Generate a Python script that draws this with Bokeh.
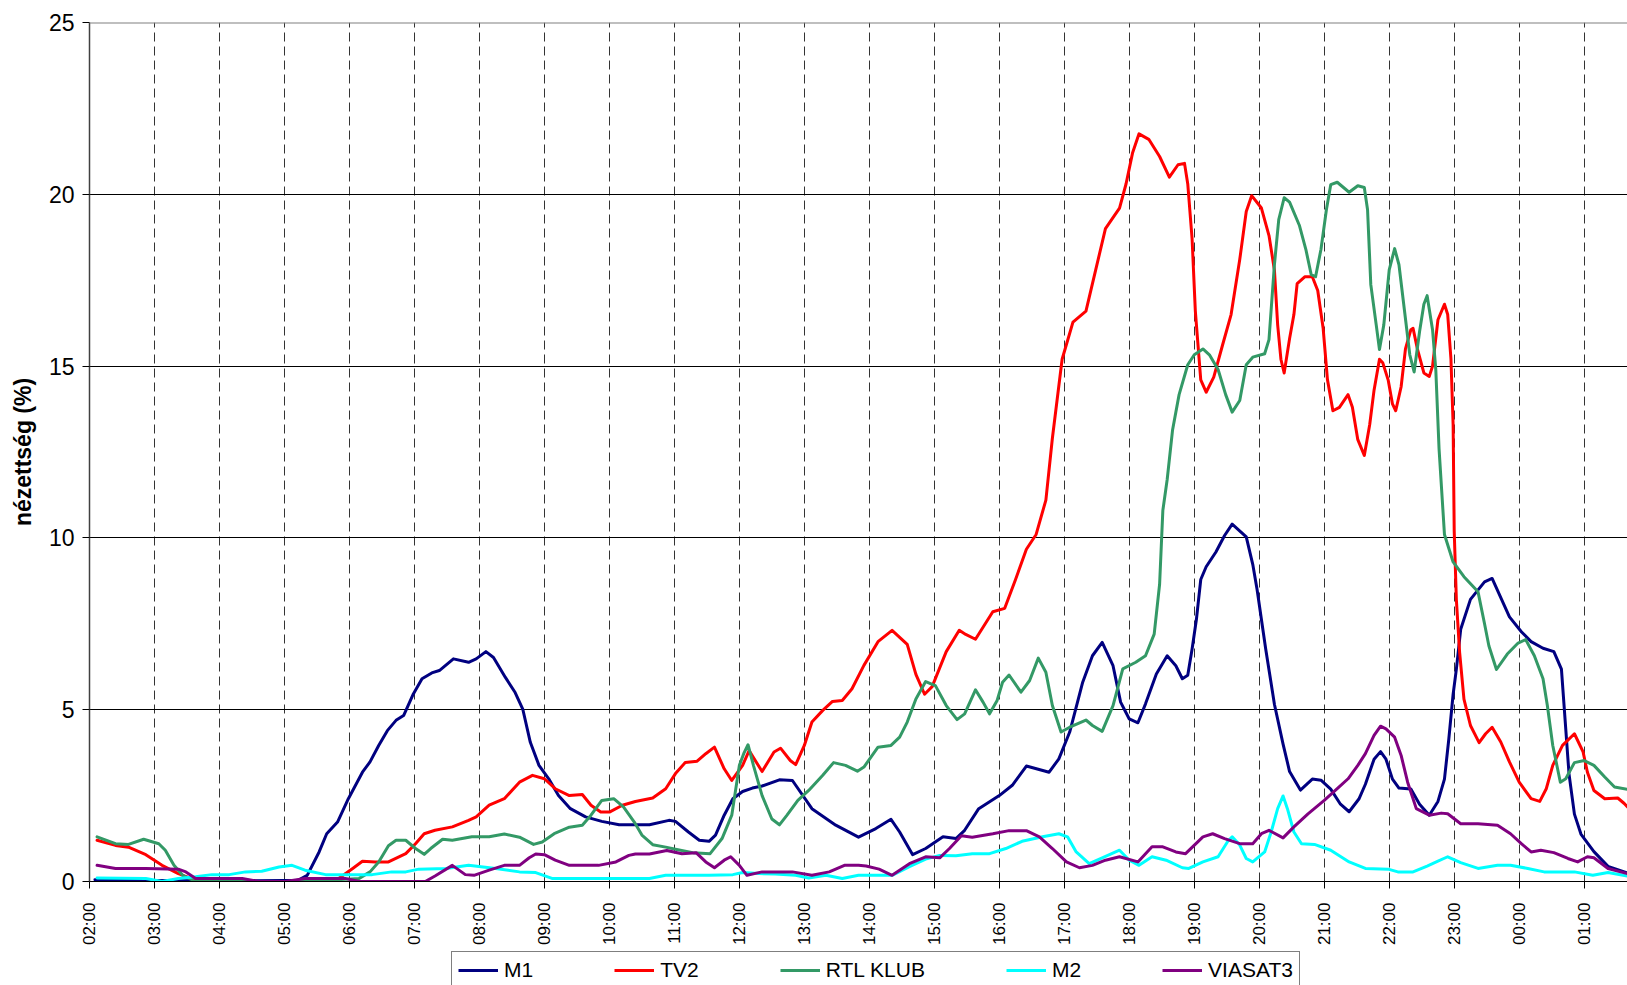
import math
from bokeh.plotting import figure
from bokeh.layouts import column
from bokeh.models import Range1d, FixedTicker, Legend, LegendItem, Span
from bokeh.embed import file_html
from bokeh.resources import INLINE

# time axis: minutes after 02:00
hour_labels = ["02:00", "03:00", "04:00", "05:00", "06:00", "07:00", "08:00", "09:00",
               "10:00", "11:00", "12:00", "13:00", "14:00", "15:00", "16:00", "17:00",
               "18:00", "19:00", "20:00", "21:00", "22:00", "23:00", "00:00", "01:00"]
y_ticks = [0, 5, 10, 15, 20, 25]
series_names = ["M1", "TV2", "RTL KLUB", "M2", "VIASAT3"]

m1_t = [5, 60, 120, 180, 193, 201, 212, 219, 229, 239, 252, 259, 267, 275, 283, 290, 299, 307,
        316, 323, 336, 350, 357, 366, 373, 384, 393, 400, 407, 415, 424, 433, 444, 458, 473, 489, 517, 535,
        541, 553, 563, 572, 578, 586, 594, 603, 612, 621, 637, 649, 667, 689, 710, 726, 740, 748, 760, 772,
        788, 800, 808, 821, 840, 852, 865, 886, 895, 905, 917, 926, 935, 945, 952, 960, 968, 975, 985, 995,
        1003, 1009, 1014, 1018, 1022, 1026, 1031, 1040, 1048, 1055, 1068, 1074, 1078, 1086, 1094, 1102, 1108,
        1118, 1129, 1137, 1146, 1155, 1163, 1172, 1178, 1186, 1192, 1197, 1203, 1209, 1220, 1228, 1237, 1245,
        1251, 1255, 1259, 1262, 1266, 1275, 1288, 1295, 1311, 1322, 1331, 1342, 1352, 1359, 1362, 1366, 1371,
        1377, 1389, 1402, 1420]
m1_v = [0.05, 0.03, 0.02, 0.03, 0.04, 0.18, 0.86, 1.39, 1.73, 2.41, 3.18, 3.48, 3.96, 4.39, 4.69,
        4.83, 5.46, 5.9, 6.07, 6.14, 6.48, 6.38, 6.48, 6.69, 6.52, 5.94, 5.5, 5.02, 4.05, 3.38, 2.99, 2.5,
        2.12, 1.88, 1.75, 1.65, 1.65, 1.78, 1.75, 1.44, 1.2, 1.17, 1.35, 1.93, 2.41, 2.62, 2.72, 2.78, 2.96,
        2.94, 2.12, 1.64, 1.29, 1.54, 1.81, 1.44, 0.78, 0.96, 1.3, 1.25, 1.49, 2.12, 2.5, 2.8, 3.36, 3.18,
        3.57, 4.35, 5.8, 6.57, 6.96, 6.28, 5.22, 4.73, 4.62, 5.17, 6.04, 6.57, 6.28, 5.9, 6.0, 6.77, 7.63,
        8.79, 9.16, 9.59, 10.07, 10.4, 10.03, 9.23, 8.5, 6.76, 5.16, 4.0, 3.2, 2.66, 2.98, 2.95, 2.69, 2.25,
        2.03, 2.4, 2.83, 3.56, 3.78, 3.56, 2.98, 2.72, 2.69, 2.25, 1.93, 2.33, 2.98, 4.14, 5.45, 6.18, 7.34,
        8.21, 8.72, 8.82, 7.7, 7.27, 6.98, 6.79, 6.69, 6.18, 4.87, 3.13, 1.96, 1.38, 0.87, 0.44, 0.25]

tv2_t = [7, 24, 36, 52, 67, 82, 98, 120, 200, 230, 243, 252, 264, 276, 292, 301, 309, 319, 335, 350, 357,
         369, 383, 397, 409, 420, 430, 443, 455, 463, 472, 480, 492, 504, 520, 532, 541, 550, 561, 569, 577,
         586, 593, 603, 609, 621, 632, 638, 647, 652, 660, 667, 677, 686, 695, 704, 715, 728, 741, 755, 763,
         771, 778, 791, 803, 809, 818, 834, 845, 855, 865, 874, 883, 889, 898, 908, 920, 929, 938, 951, 957,
         963, 969, 978, 988, 997, 1005, 1011, 1014, 1018, 1021, 1026, 1031, 1038, 1046, 1054, 1062, 1068,
         1073, 1082, 1089, 1094, 1097, 1100, 1103, 1108, 1112, 1115, 1122, 1129, 1134, 1139, 1143, 1148,
         1154, 1162, 1166, 1171, 1177, 1182, 1186, 1191, 1194, 1199, 1203, 1206, 1211, 1215, 1220, 1222,
         1226, 1232, 1237, 1240, 1245, 1251, 1254, 1257, 1259, 1260, 1262, 1265, 1269, 1275, 1283, 1289,
         1295, 1303, 1311, 1320, 1331, 1339, 1345, 1351, 1360, 1371, 1379, 1383, 1389, 1399, 1411, 1417, 1420]
tv2_v = [1.2, 1.05, 1.0, 0.78, 0.47, 0.23, 0.04, 0.0, 0.0, 0.09, 0.38, 0.59, 0.57, 0.57, 0.81, 1.1, 1.39,
         1.49, 1.59, 1.78, 1.88, 2.22, 2.41, 2.89, 3.09, 2.99, 2.7, 2.5, 2.53, 2.22, 2.02, 2.02, 2.22, 2.33,
         2.43, 2.7, 3.14, 3.46, 3.5, 3.72, 3.91, 3.28, 2.94, 3.38, 3.81, 3.2, 3.77, 3.88, 3.52, 3.4, 3.96,
         4.64, 4.98, 5.24, 5.27, 5.61, 6.29, 6.98, 7.31, 6.9, 6.03, 5.45, 5.67, 6.69, 7.31, 7.19, 7.05, 7.85,
         7.95, 8.79, 9.67, 10.1, 11.1, 12.9, 15.2, 16.28, 16.6, 17.8, 19.0, 19.6, 20.3, 21.2, 21.76, 21.6,
         21.1, 20.5, 20.86, 20.9, 20.3, 18.7, 16.6, 14.6, 14.24, 14.68, 15.6, 16.5, 18.1, 19.5, 19.96, 19.6,
         18.8, 17.8, 16.2, 15.2, 14.8, 15.8, 16.5, 17.4, 17.6, 17.6, 17.2, 16.1, 14.6, 13.7, 13.8, 14.17,
         13.8, 12.86, 12.4, 13.3, 14.3, 15.2, 15.1, 14.6, 13.9, 13.7, 14.4, 15.5, 16.06, 16.1, 15.5, 14.8,
         14.7, 15.0, 16.35, 16.8, 16.5, 15.2, 13.3, 10.2, 8.2, 6.67, 5.31, 4.54, 4.04, 4.3, 4.49, 4.06, 3.48,
         2.89, 2.41, 2.33, 2.7, 3.38, 3.96, 4.3, 3.77, 3.18, 2.65, 2.41, 2.43, 2.27, 2.17]

rtl_t = [7, 24, 36, 50, 64, 70, 78, 86, 98, 200, 249, 259, 267, 276, 283, 292, 301, 309, 315, 326, 335,
         353, 369, 383, 397, 410, 418, 429, 443, 455, 463, 473, 484, 493, 503, 510, 520, 532, 541, 557, 573,
         584, 593, 600, 604, 608, 613, 621, 630, 637, 644, 654, 664, 677, 687, 698, 709, 715, 728, 740, 748,
         755, 763, 772, 781, 791, 801, 808, 818, 825, 831, 838, 843, 849, 860, 868, 876, 883, 889, 897, 905,
         920, 926, 935, 945, 954, 966, 975, 983, 988, 991, 995, 1000, 1006, 1014, 1020, 1028, 1034, 1042,
         1049, 1055, 1062, 1068, 1074, 1085, 1089, 1094, 1098, 1103, 1108, 1117, 1123, 1128, 1132, 1137,
         1142, 1146, 1152, 1163, 1171, 1177, 1180, 1183, 1188, 1191, 1195, 1200, 1205, 1209, 1214, 1219,
         1223, 1228, 1232, 1235, 1240, 1243, 1246, 1249, 1251, 1259, 1269, 1282, 1288, 1292, 1299, 1309,
         1319, 1326, 1334, 1342, 1346, 1351, 1358, 1363, 1371, 1380, 1389, 1399, 1408, 1420]
rtl_v = [1.3, 1.1, 1.08, 1.23, 1.1, 0.91, 0.47, 0.18, 0.0, 0.0, 0.09, 0.28, 0.57, 1.04, 1.2, 1.2, 0.96,
         0.79, 0.96, 1.23, 1.2, 1.3, 1.3, 1.38, 1.29, 1.08, 1.15, 1.39, 1.58, 1.64, 1.93, 2.36, 2.41, 2.17,
         1.73, 1.35, 1.07, 1.0, 0.94, 0.84, 0.81, 1.25, 1.93, 3.38, 3.72, 3.98, 3.38, 2.5, 1.82, 1.65, 1.93,
         2.36, 2.65, 3.09, 3.46, 3.38, 3.21, 3.33, 3.91, 3.96, 4.2, 4.64, 5.31, 5.82, 5.7, 5.12, 4.71, 4.88,
         5.58, 5.22, 4.88, 5.27, 5.8, 6.01, 5.51, 5.85, 6.5, 6.09, 5.12, 4.35, 4.49, 4.7, 4.54, 4.37, 5.12,
         6.19, 6.38, 6.57, 7.2, 8.65, 10.8, 11.7, 13.15, 14.17, 15.04, 15.33, 15.5, 15.33, 14.9, 14.17,
         13.66, 14.0, 15.04, 15.26, 15.36, 15.77, 17.95, 19.26, 19.9, 19.77, 19.1, 18.4, 17.66, 17.6, 18.4,
         19.55, 20.28, 20.35, 20.06, 20.25, 20.2, 19.55, 17.37, 16.2, 15.48, 16.2, 17.8, 18.42, 17.95,
         16.64, 15.33, 14.83, 16.0, 16.8, 17.05, 16.06, 14.9, 12.6, 11.1, 10.1, 9.3, 8.87, 8.43, 7.5, 6.86,
         6.17, 6.62, 6.94, 7.04, 6.57, 5.9, 5.12, 3.96, 2.89, 2.99, 3.46, 3.52, 3.38, 3.04, 2.75, 2.68]

m2_t = [7, 52, 67, 82, 98, 113, 129, 144, 159, 175, 187, 199, 218, 239, 261, 279, 292, 304, 329, 350, 375,
        397, 412, 427, 449, 480, 517, 532, 572, 594, 603, 618, 633, 652, 664, 680, 695, 710, 741, 757, 772,
        785, 800, 815, 831, 846, 861, 880, 895, 903, 911, 923, 935, 951, 960, 969, 981, 994, 1009, 1015,
        1028, 1042, 1051, 1055, 1062, 1068, 1074, 1085, 1091, 1097, 1102, 1106, 1112, 1119, 1131, 1146,
        1163, 1178, 1199, 1208, 1222, 1235, 1245, 1254, 1266, 1282, 1300, 1312, 1328, 1343, 1371, 1388,
        1402, 1420]
m2_v = [0.1, 0.09, 0.0, 0.09, 0.14, 0.2, 0.2, 0.28, 0.3, 0.42, 0.47, 0.33, 0.2, 0.2, 0.2, 0.28, 0.28, 0.36,
        0.38, 0.47, 0.38, 0.28, 0.26, 0.09, 0.09, 0.09, 0.09, 0.18, 0.18, 0.2, 0.26, 0.23, 0.22, 0.18, 0.1,
        0.18, 0.09, 0.18, 0.18, 0.43, 0.65, 0.76, 0.75, 0.81, 0.81, 0.96, 1.17, 1.3, 1.39, 1.3, 0.86, 0.52,
        0.69, 0.91, 0.62, 0.47, 0.72, 0.62, 0.4, 0.38, 0.57, 0.72, 1.17, 1.3, 1.06, 0.67, 0.57, 0.86, 1.44,
        2.12, 2.49, 2.12, 1.44, 1.1, 1.08, 0.91, 0.57, 0.38, 0.36, 0.28, 0.28, 0.45, 0.59, 0.72, 0.55, 0.38,
        0.47, 0.47, 0.38, 0.28, 0.28, 0.18, 0.26, 0.16]

via_t = [7, 24, 52, 82, 89, 98, 141, 156, 181, 199, 236, 249, 310, 319, 335, 347, 355, 369, 383, 397, 406,
         412, 420, 430, 443, 470, 486, 498, 504, 517, 533, 547, 560, 569, 577, 586, 592, 600, 607, 621, 649,
         667, 683, 697, 710, 717, 729, 741, 757, 772, 785, 794, 805, 815, 834, 849, 865, 877, 889, 902, 914,
         926, 938, 951, 968, 981, 991, 1003, 1012, 1028, 1037, 1048, 1062, 1074, 1082, 1089, 1102, 1112,
         1125, 1140, 1152, 1162, 1171, 1178, 1186, 1192, 1197, 1205, 1211, 1217, 1225, 1237, 1248, 1254,
         1266, 1282, 1300, 1312, 1322, 1331, 1340, 1352, 1365, 1374, 1383, 1389, 1402, 1420]
via_v = [0.47, 0.38, 0.38, 0.36, 0.28, 0.09, 0.09, 0.0, 0.0, 0.09, 0.09, 0.0, 0.0, 0.16, 0.47, 0.2, 0.18,
         0.33, 0.47, 0.47, 0.69, 0.8, 0.78, 0.62, 0.47, 0.47, 0.57, 0.76, 0.8, 0.8, 0.9, 0.81, 0.84, 0.57,
         0.4, 0.62, 0.72, 0.47, 0.18, 0.28, 0.28, 0.18, 0.28, 0.47, 0.47, 0.45, 0.36, 0.18, 0.52, 0.72, 0.69,
         0.96, 1.33, 1.29, 1.39, 1.48, 1.48, 1.3, 0.96, 0.57, 0.4, 0.47, 0.62, 0.72, 0.57, 1.01, 1.01, 0.86,
         0.81, 1.3, 1.39, 1.25, 1.1, 1.1, 1.39, 1.49, 1.27, 1.59, 1.97, 2.36, 2.7, 2.99, 3.38, 3.72, 4.25,
         4.52, 4.44, 4.2, 3.67, 2.89, 2.12, 1.93, 1.99, 1.97, 1.68, 1.68, 1.64, 1.39, 1.1, 0.86, 0.91, 0.84,
         0.67, 0.57, 0.72, 0.69, 0.38, 0.23]

colors = ["#000080", "#FF0000", "#339966", "#00FFFF", "#800080"]
FONT = "Liberation Sans"
series = [(m1_t, m1_v), (tv2_t, tv2_v), (rtl_t, rtl_v), (m2_t, m2_v), (via_t, via_v)]

# ---------------- main chart ----------------
p = figure(width=1627, height=948, output_backend="svg", toolbar_location=None,
           x_range=Range1d(0, 1420), y_range=Range1d(0, 25),
           min_border_left=89, min_border_right=0, min_border_top=22, min_border_bottom=65)
p.outline_line_color = None
p.background_fill_color = "white"
p.border_fill_color = "white"

p.ygrid.ticker = FixedTicker(ticks=[5, 10, 15, 20])
p.ygrid.grid_line_color = "black"
p.ygrid.grid_line_width = 1
p.xgrid.ticker = FixedTicker(ticks=[i * 60 for i in range(1, len(hour_labels))])
p.xgrid.grid_line_color = "#333333"
p.xgrid.grid_line_width = 1
p.xgrid.grid_line_dash = "9 5"
p.add_layout(Span(location=25, dimension="width", line_color="#808080", line_width=2))

p.xaxis.ticker = FixedTicker(ticks=[i * 60 for i in range(len(hour_labels))])
p.xaxis.major_label_overrides = {i * 60: lab for i, lab in enumerate(hour_labels)}
p.xaxis.major_label_orientation = math.pi / 2
p.xaxis.major_label_text_font = FONT
p.xaxis.major_label_text_font_size = "17px"
p.xaxis.major_label_text_color = "black"
p.xaxis.major_tick_out = 7
p.xaxis.major_tick_in = 0
p.xaxis.minor_tick_out = 0
p.xaxis.minor_tick_in = 0
p.xaxis.axis_line_color = "black"
p.xaxis.major_tick_line_color = "black"
p.xaxis.major_label_standoff = 14

p.yaxis.ticker = FixedTicker(ticks=y_ticks)
p.yaxis.major_label_text_font = FONT
p.yaxis.major_label_text_font_size = "23px"
p.yaxis.major_label_text_color = "black"
p.yaxis.major_tick_out = 7
p.yaxis.major_tick_in = 0
p.yaxis.minor_tick_out = 0
p.yaxis.minor_tick_in = 0
p.yaxis.axis_line_color = "#404040"
p.yaxis.axis_line_width = 1.5
p.yaxis.major_tick_line_color = "black"
p.yaxis.major_label_standoff = 8
p.yaxis.axis_label = "nézettség (%)"
p.yaxis.axis_label_text_font = FONT
p.yaxis.axis_label_text_font_style = "bold"
p.yaxis.axis_label_text_font_size = "23px"
p.yaxis.axis_label_text_color = "black"
p.yaxis.axis_label_standoff = 10

for (t, v), c in zip(series, colors):
    p.line(t, v, line_color=c, line_width=3, line_join="round", line_cap="round")

# ---------------- legend strip ----------------
q = figure(width=1627, height=37, output_backend="svg", toolbar_location=None,
           x_range=Range1d(0, 1420), y_range=Range1d(100, 101),
           x_axis_type=None, y_axis_type=None,
           min_border_left=0, min_border_right=0, min_border_top=0, min_border_bottom=0)
q.outline_line_color = None
q.xgrid.visible = False
q.ygrid.visible = False
q.background_fill_color = "white"
q.border_fill_color = "white"

items = []
for name, (t, v), c in zip(series_names, series, colors):
    r = q.line(t, v, line_color=c, line_width=3)
    items.append(LegendItem(label=name, renderers=[r]))

legend = Legend(items=items, orientation="horizontal", location=(362, -4),
                label_text_font=FONT, label_text_font_size="21px", label_text_color="black",
                glyph_width=40, glyph_height=20, label_height=20, label_standoff=6, label_width=0,
                spacing=81, padding=6, margin=0,
                border_line_color="black", border_line_width=1,
                background_fill_color="white", background_fill_alpha=1.0)
q.add_layout(legend)

layout = column(p, q, spacing=0)
open("out.html", "w").write(file_html(layout, INLINE))
